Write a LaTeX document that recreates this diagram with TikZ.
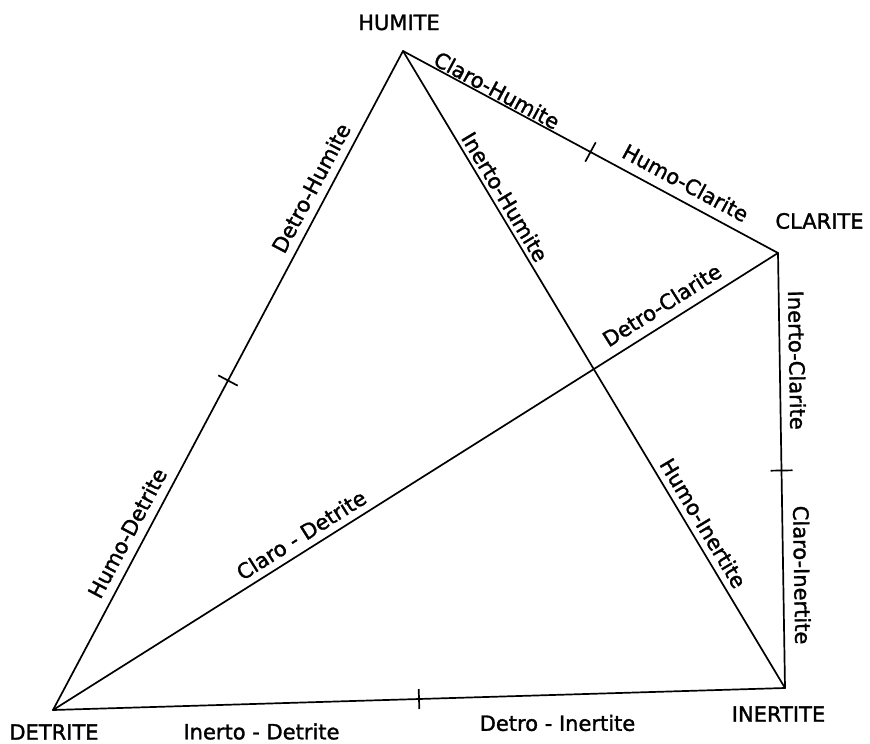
\documentclass[tikz,border=0pt]{standalone}
\usepackage{fontspec}
\setmainfont[FakeBold=1.5]{DejaVu Sans}
\usetikzlibrary{calc}
\begin{document}
\begin{tikzpicture}[x=1pt,y=-1pt,
  edge/.style={line width=1.7pt, line cap=round, line join=round},
  lbl/.style={sloped, inner sep=0pt, font=\fontsize{21}{24}\selectfont},
  vlbl/.style={inner sep=0pt, font=\fontsize{21}{24}\selectfont},
  tickmark/.style={line width=1.7pt}]
\useasboundingbox (0,0) rectangle (870,744);
% vertices
\coordinate (H) at (403,51);
\coordinate (C) at (778,253);
\coordinate (I) at (785,688);
\coordinate (D) at (53,710);
% vertex names
\node[vlbl] (hl) at (399,22.5) {HUMITE};
\node[vlbl] (cl) at (819.5,221) {CLARITE};
\node[vlbl] (dl) at (54,732) {DETRITE};
\node[vlbl] (il) at (778.5,714) {INERTITE};
% edges with labels
\draw[edge] (H) -- (C)
  node[lbl, pos=0.238, yshift=10pt] (l1) {Claro-Humite}
  node[lbl, pos=0.731, yshift=18pt] (l2) {Humo-Clarite};
\draw[edge] (D) -- (H)
  node[lbl, pos=0.780, yshift=17pt] (l3) {Detro-Humite}
  node[lbl, pos=0.256, yshift=17.5pt] (l4) {Humo-Detrite};
\draw[edge] (H) -- (I)
  node[lbl, pos=0.239, yshift=12.5pt] (l5) {Inerto-Humite}
  node[lbl, pos=0.753, yshift=14.8pt] (l6) {Humo-Inertite};
\draw[edge] (D) -- (C)
  node[lbl, pos=0.853, yshift=18pt] (l7) {Detro-Clarite}
  node[lbl, pos=0.354, yshift=15.8pt] (l8) {Claro - Detrite};
\draw[edge] (C) -- (I)
  node[lbl, pos=0.247, yshift=17.3pt] (l9) {Inerto-Clarite}
  node[lbl, pos=0.741, yshift=18.8pt] (l10) {Claro-Inertite};
\draw[edge] (D) -- (I);
\node[vlbl] (l11) at (261.5,731.5) {Inerto - Detrite};
\node[vlbl] (l12) at (557.5,723) {Detro - Inertite};
% tick marks at the mid points
\coordinate (mHC) at ($(H)!0.5!(C)$);
\coordinate (mDH) at ($(D)!0.5!(H)$);
\coordinate (mCI) at ($(C)!0.5!(I)$);
\coordinate (mDI) at ($(D)!0.5!(I)$);
\draw[tickmark] ($(mHC)!11pt!90:(C)$) -- ($(mHC)!11pt!-90:(C)$);
\draw[tickmark] ($(mDH)!11pt!90:(H)$) -- ($(mDH)!11pt!-90:(H)$);
\draw[tickmark] ($(mCI)!11pt!90:(I)$) -- ($(mCI)!11pt!-90:(I)$);
\draw[tickmark] ($(mDI)!10pt!90:(I)$) -- ($(mDI)!10pt!-90:(I)$);
\end{tikzpicture}
\end{document}
